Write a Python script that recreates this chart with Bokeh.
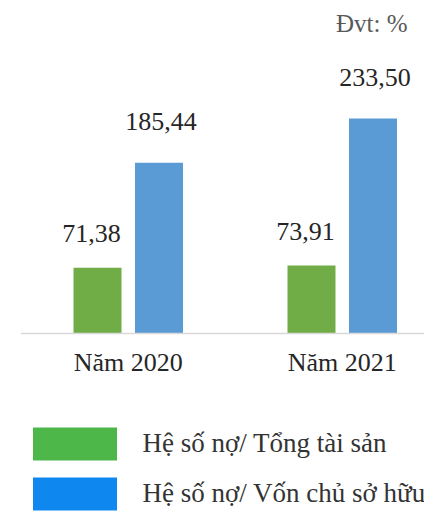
from bokeh.plotting import figure
from bokeh.models import ColumnDataSource, Range1d, Span, Legend, LegendItem, Label
from bokeh.transform import dodge
from bokeh.core.properties import value
from bokeh.embed import file_html
from bokeh.resources import INLINE

# ---- data ----
years = ["Năm 2020", "Năm 2021"]
debt_to_assets = [71.38, 73.91]
debt_to_equity = [185.44, 233.50]
series_names = ["Hệ số nợ/ Tổng tài sản", "Hệ số nợ/ Vốn chủ sở hữu"]
unit_note = "Đvt: %"


def fmt(v):
    return f"{v:.2f}".replace(".", ",")


src = ColumnDataSource(dict(
    idx=list(range(len(years))),
    year=years,
    assets=debt_to_assets,
    equity=debt_to_equity,
    lab_a=[fmt(v) for v in debt_to_assets],
    lab_e=[fmt(v) for v in debt_to_equity],
))

GREEN_BAR = "#70AD47"
BLUE_BAR = "#5B9BD5"
GREEN_LEG = "#4DB849"
BLUE_LEG = "#0E88EE"
FONT = "Liberation Serif"

p = figure(width=424, height=516, output_backend="svg", toolbar_location=None,
           x_range=Range1d(-0.5035, 1.3843), y_range=Range1d(-198.7, 352.9),
           x_axis_location=None, y_axis_location=None,
           min_border_left=20, min_border_right=0, min_border_top=8, min_border_bottom=0)
p.outline_line_color = None
p.grid.visible = False
p.background_fill_color = "white"
p.border_fill_color = "white"

off = 0.1437
bw = 0.2243

p.vbar(x=dodge("idx", -off, range=p.x_range), top="assets", bottom=0, width=bw,
       source=src, fill_color=GREEN_BAR, line_color=None)
p.vbar(x=dodge("idx", off, range=p.x_range), top="equity", bottom=0, width=bw,
       source=src, fill_color=BLUE_BAR, line_color=None)

p.add_layout(Span(location=0, dimension="width", line_color="#D9D9D9", line_width=1.5))

p.text(x=dodge("idx", -off, range=p.x_range), y="assets", text="lab_a", source=src,
       x_offset=-6, y_offset=-34, text_align="center", text_baseline="alphabetic",
       text_font=value(FONT), text_font_size="26px", text_color="#262626")
p.text(x=dodge("idx", off, range=p.x_range), y="equity", text="lab_e", source=src,
       x_offset=2, y_offset=-41, text_align="center", text_baseline="alphabetic",
       text_font=value(FONT), text_font_size="26px", text_color="#262626")

p.text(x="idx", y=0, text="year", source=src, y_offset=29,
       text_align="center", text_baseline="alphabetic",
       text_font=value(FONT), text_font_size="26px", text_color="#262626")

p.add_layout(Label(x=1.305, y=336.7, text=unit_note, text_align="right",
                   text_baseline="alphabetic", text_font=FONT,
                   text_font_size="25px", text_color="#595959"))

# legend swatches (hidden renderers carrying the legend colours)
r1 = p.vbar(x="idx", top="assets", width=bw, source=src, fill_color=GREEN_LEG,
            line_color=None, visible=False)
r2 = p.vbar(x="idx", top="equity", width=bw, source=src, fill_color=BLUE_LEG,
            line_color=None, visible=False)
legend = Legend(items=[LegendItem(label=series_names[0], renderers=[r1]),
                       LegendItem(label=series_names[1], renderers=[r2])],
                location=(1.5, 1.9), orientation="vertical",
                glyph_width=105, glyph_height=41, label_height=41, spacing=9,
                label_standoff=16, padding=0, margin=0,
                border_line_color=None, background_fill_alpha=0,
                inactive_fill_alpha=0,
                label_text_font=FONT, label_text_font_size="27px",
                label_text_color="#333333")
p.add_layout(legend)

open("out.html", "w").write(file_html(p, INLINE))
